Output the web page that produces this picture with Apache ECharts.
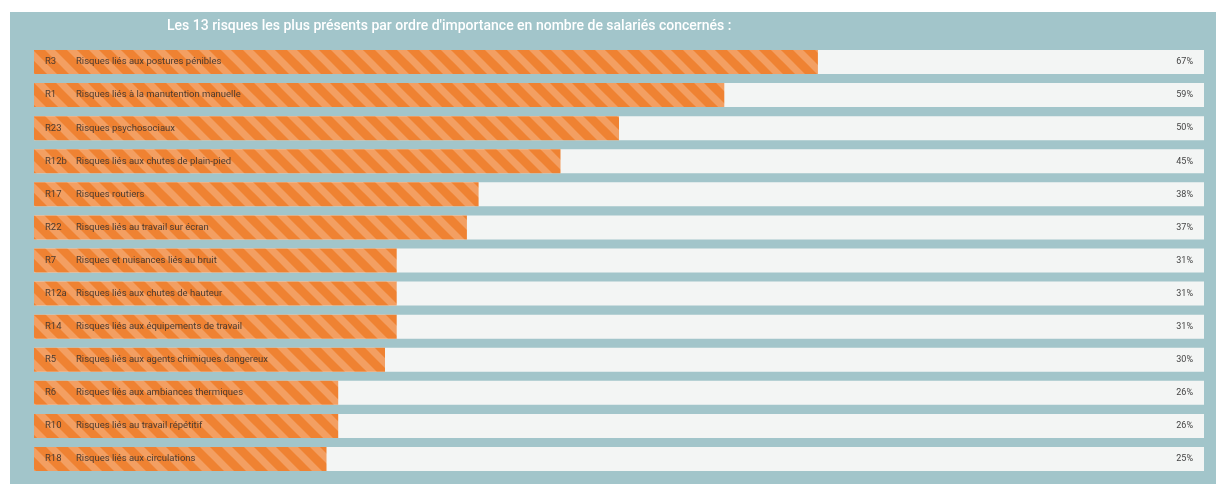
<!DOCTYPE html>
<html><head><meta charset="utf-8">
<script src="https://cdn.jsdelivr.net/npm/echarts@6/dist/echarts.min.js"></script>
<style>html,body{margin:0;padding:0;background:#fff}#c{width:1216px;height:484px}</style>
</head><body><div id="c"></div>
<script>
const codes = ['R3','R1','R23','R12b','R17','R22','R7','R12a','R14','R5','R6','R10','R18'];
const names = ['Risques liés aux postures pénibles','Risques liés à la manutention manuelle','Risques psychosociaux','Risques liés aux chutes de plain-pied','Risques routiers','Risques liés au travail sur écran','Risques et nuisances liés au bruit','Risques liés aux chutes de hauteur','Risques liés aux équipements de travail','Risques liés aux agents chimiques dangereux','Risques liés aux ambiances thermiques','Risques liés au travail répétitif','Risques liés aux circulations'];
const values = [67,59,50,45,38,37,31,31,31,30,26,26,25];
const fullScale = [100,100,100,100,100,100,100,100,100,100,100,100,100];
const titleText = "Les 13 risques les plus présents par ordre d'importance en nombre de salariés concernés :";

// striped pattern
const pc = document.createElement('canvas');
pc.width = 22; pc.height = 22;
const g = pc.getContext('2d');
g.fillStyle = '#ef8232'; g.fillRect(0,0,22,22);
g.strokeStyle = '#f39f62'; g.lineWidth = 7;
for (let k=-2;k<=2;k++){ g.beginPath(); g.moveTo(k*22-5, -5); g.lineTo(k*22+27, 27); g.stroke(); }

const chart = echarts.init(document.getElementById('c'));
chart.setOption({
  animation:false,
  graphic:[{type:'rect', z:-10, shape:{x:10,y:12,width:1206,height:472}, style:{fill:'#a2c5ca'}}],
  title:{text:titleText, left:162, top:14, textStyle:{color:'#ffffff', fontSize:14, fontWeight:500, fontFamily:'Roboto'}},
  grid:{left:34, right:12, top:45.5, bottom:8.5},
  xAxis:{type:'value', min:0, max:100, show:false},
  yAxis:{type:'category', inverse:true, data:codes, show:false},
  series:[
    {type:'bar', data:fullScale, barWidth:24, barGap:'-100%', z:1, silent:true,
     itemStyle:{color:'#f3f5f4'},
     label:{show:true, position:'insideRight', offset:[-6,0], fontSize:9, color:'#444', fontFamily:'Roboto',
       formatter:p=>values[p.dataIndex]+'%'}},
    {type:'bar', data:values, barWidth:24, z:2,
     itemStyle:{color:{image:pc, repeat:'repeat'}},
     label:{show:true, position:'insideLeft', offset:[6,0], fontFamily:'Roboto',
       formatter:p=>'{c|'+codes[p.dataIndex]+'}{n|'+names[p.dataIndex]+'}',
       rich:{c:{width:31, fontSize:9.5, color:'#4a3a30', fontFamily:'Roboto'}, n:{fontSize:9.5, color:'#4a3a30', fontFamily:'Roboto'}}}}
  ]
});
</script></body></html>
